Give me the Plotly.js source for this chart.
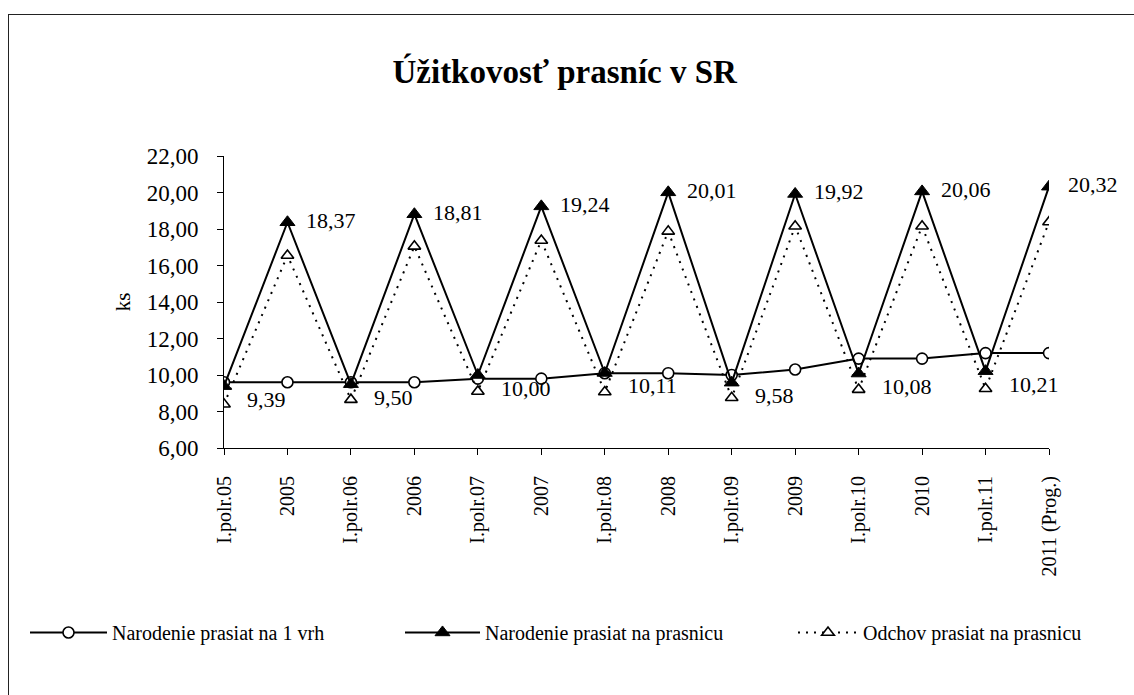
<!DOCTYPE html>
<html>
<head>
<meta charset="utf-8">
<script src="https://cdn.plot.ly/plotly-3.0.1.min.js"></script>
<style>
  html, body { margin: 0; padding: 0; background: #fff; }
  #wrap { position: relative; width: 1134px; height: 695px; overflow: hidden; }
  #chart { position: absolute; left: 0; top: 0; width: 1134px; height: 695px; }
  #frame { position: absolute; left: 8px; top: 14px; width: 1200px; height: 800px;
           border-top: 1px solid #222; border-left: 1px solid #222; pointer-events: none; }
  #chart .legend text, #chart .legend tspan { font-family: 'Liberation Serif', 'Times New Roman', serif !important; }
</style>
</head>
<body>
<div id="wrap">
  <div id="chart"></div>
  <div id="frame"></div>
</div>
<script>
// ---- data ----
const categories = ["I.polr.05", "2005", "I.polr.06", "2006", "I.polr.07", "2007",
                    "I.polr.08", "2008", "I.polr.09", "2009", "I.polr.10", "2010",
                    "I.polr.11", "2011 (Prog.)"];
const perLitter = [9.6, 9.6, 9.6, 9.6, 9.8, 9.8, 10.1, 10.1, 10.0, 10.3, 10.9, 10.9, 11.2, 11.2];
const bornPerSow = [9.39, 18.37, 9.50, 18.81, 10.00, 19.24, 10.11, 20.01, 9.58, 19.92, 10.08, 20.06, 10.21, 20.32];
const rearedPerSow = [8.4, 16.55, 8.65, 17.05, 9.1, 17.37, 9.07, 17.87, 8.75, 18.15, 9.2, 18.15, 9.25, 18.38];
const seriesNames = ["Narodenie prasiat na 1 vrh", "Narodenie prasiat na prasnicu", "Odchov prasiat na prasnicu"];
const titleText = "Úžitkovosť prasníc v SR";
const yTitle = "ks";

// ---- chart ----
const FONT = 'Liberation Serif, Times New Roman, serif';

const traces = [
  {
    x: categories, y: perLitter, name: seriesNames[0], type: 'scatter', mode: 'lines+markers',
    line: { color: '#000', width: 2 },
    marker: { symbol: 'circle', size: 11, color: '#fff', line: { color: '#000', width: 1.6 } },
    legend: 'legend'
  },
  {
    x: categories, y: bornPerSow, name: seriesNames[1], type: 'scatter', mode: 'lines+markers',
    line: { color: '#000', width: 2 },
    marker: { symbol: 'triangle-up', size: 13, color: '#000', line: { color: '#000', width: 1 } },
    legend: 'legend2'
  },
  {
    x: categories, y: rearedPerSow, name: seriesNames[2], type: 'scatter', mode: 'lines+markers',
    line: { color: '#000', width: 2, dash: '2px,6px' },
    marker: { symbol: 'triangle-up', size: 11, color: '#fff', line: { color: '#000', width: 1.6 } },
    legend: 'legend3'
  }
];

const fmt = v => v.toFixed(2).replace('.', ',');
const annotations = bornPerSow.map((v, i) => {
  const annual = i % 2 === 1;
  return {
    x: i, y: v, xref: 'x', yref: 'y',
    text: fmt(v), showarrow: false,
    xanchor: 'left', yanchor: 'middle',
    xshift: annual ? 17 : 21, yshift: annual ? 2 : -13,
    font: { family: FONT, size: 22, color: '#000' }
  };
});

const legendBase = (x, w) => ({
  orientation: 'h', xref: 'container', yref: 'container',
  x: x, y: 0.09, xanchor: 'left', yanchor: 'middle',
  font: { family: FONT, size: 20, color: '#000' },
  itemwidth: w, bgcolor: 'rgba(0,0,0,0)', borderwidth: 0
});

const layout = {
  width: 1134, height: 695,
  margin: { l: 224, r: 85, t: 156, b: 247, pad: 0 },
  paper_bgcolor: 'rgba(0,0,0,0)', plot_bgcolor: 'rgba(0,0,0,0)',
  separators: ',.',
  font: { family: FONT, color: '#000', size: 20 },
  title: {
    text: '<b>' + titleText + '</b>',
    font: { family: FONT, size: 33, color: '#000' },
    xref: 'container', yref: 'container', x: 0.498, y: 0.897, xanchor: 'center', yanchor: 'middle'
  },
  xaxis: {
    type: 'category', range: [0, 13], showgrid: false, zeroline: false,
    showline: true, linecolor: '#000', linewidth: 1,
    ticks: 'outside', ticklen: 6, tickcolor: '#000', tickwidth: 1,
    tickangle: -90, tickfont: { family: FONT, size: 20, color: '#000' },
    ticklabelstandoff: 13, fixedrange: true
  },
  yaxis: {
    range: [6, 22], dtick: 2, tick0: 6, tickformat: '.2f', showgrid: false, zeroline: false,
    showline: true, linecolor: '#000', linewidth: 1,
    ticks: 'outside', ticklen: 6, tickcolor: '#000', tickwidth: 1,
    tickfont: { family: FONT, size: 23, color: '#000' },
    ticklabelstandoff: 14,
    title: { text: yTitle, font: { family: FONT, size: 21, color: '#000' }, standoff: 10 },
    fixedrange: true
  },
  showlegend: true,
  legend: legendBase(25 / 1134, 77),
  legend2: legendBase(400 / 1134, 75),
  legend3: legendBase(793 / 1134, 60),
  annotations: annotations
};

Plotly.newPlot('chart', traces, layout, { displayModeBar: false, staticPlot: true });
</script>
</body>
</html>
